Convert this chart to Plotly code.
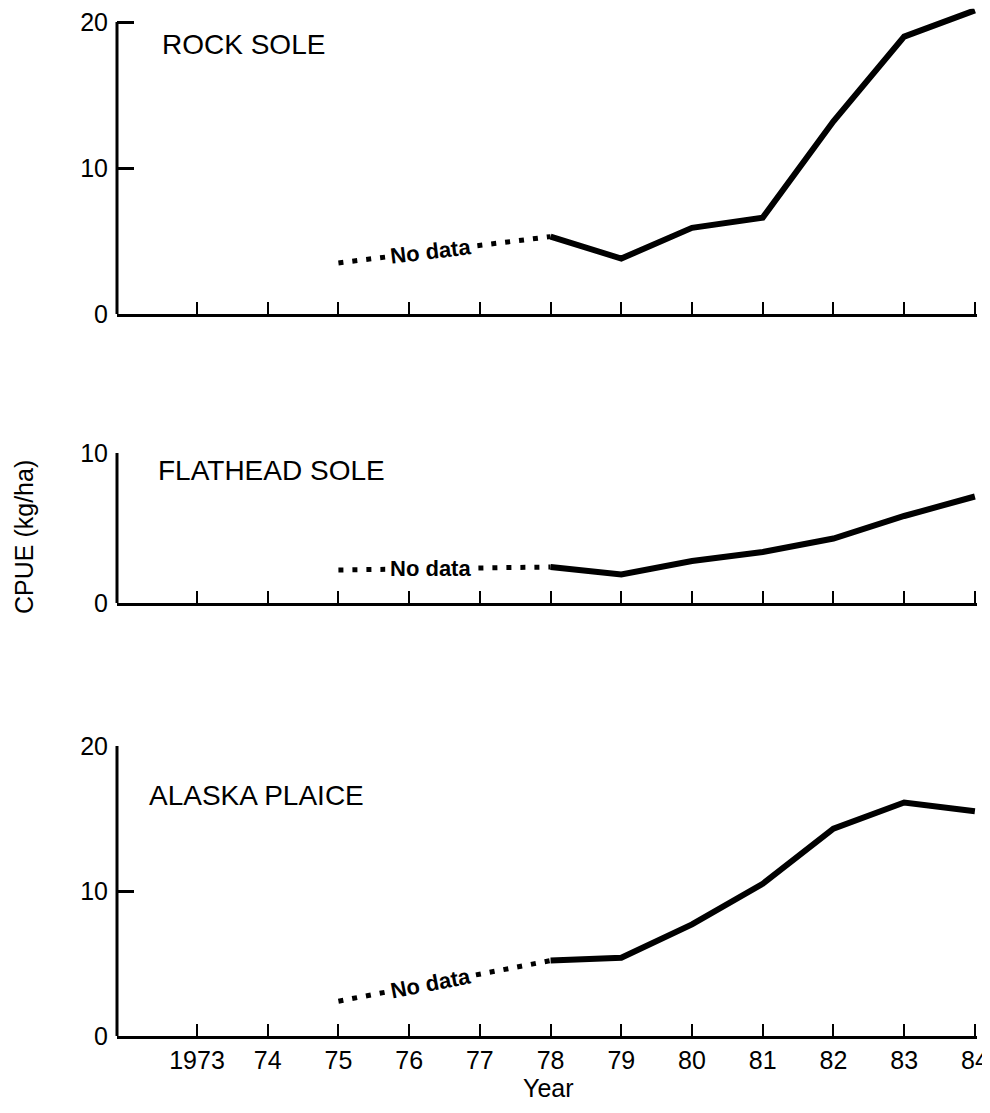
import plotly.graph_objects as go

# ---- data ----
years = [1978, 1979, 1980, 1981, 1982, 1983, 1984]
rock_sole = [5.3, 3.8, 5.9, 6.6, 13.2, 19.0, 20.8]
flathead_sole = [2.4, 1.9, 2.8, 3.4, 4.3, 5.8, 7.1]
alaska_plaice = [5.2, 5.4, 7.7, 10.5, 14.3, 16.1, 15.5]

nodata_years = [1975, 1978]
rock_sole_nodata = [3.5, 5.3]
flathead_nodata = [2.2, 2.4]
plaice_nodata = [2.4, 5.2]

panel_titles = ["ROCK SOLE", "FLATHEAD SOLE", "ALASKA PLAICE"]
tick_years = list(range(1973, 1985))
tick_labels = ["1973"] + [str(y)[2:] for y in tick_years[1:]]

# page body has an 8px margin; build the figure in page coordinates minus 8
OFF = 8
W, H = 990 - OFF, 1097
ML = 117 - OFF
MR = W - (977 - OFF)
PW = W - ML - MR
FONT = "Liberation Sans, Arial, Helvetica, sans-serif"

def py(p):  # page pixel y -> paper fraction
    return min(1.0, max(0.0, (H - (p - OFF)) / H))

def px(p):  # page pixel x -> paper fraction
    return (p - OFF - ML) / PW

panels = [
    dict(vals=rock_sole, nd=rock_sole_nodata, yr=[0, 20.9], ytop=20, ticks=[0, 10, 20],
         dom=[py(314), py(314 - 20.9 * 14.6)], title_xy=(160, 45), angle=-7),
    dict(vals=flathead_sole, nd=flathead_nodata, yr=[0, 10], ytop=10, ticks=[0, 10],
         dom=[py(603), py(453)], title_xy=(156, 471), angle=0),
    dict(vals=alaska_plaice, nd=plaice_nodata, yr=[0, 20], ytop=20, ticks=[0, 10, 20],
         dom=[py(1036), py(1036 - 20 * 14.5)], title_xy=(147, 795), angle=-11),
]

fig = go.Figure()
annotations = []
shapes = []
xr = [1971.869, 1984.03]

for i, p in enumerate(panels):
    n = i + 1
    xa = "x" if n == 1 else f"x{n}"
    ya = "y" if n == 1 else f"y{n}"
    # dotted 'no data' segment
    fig.add_trace(go.Scatter(x=nodata_years, y=p["nd"], mode="lines",
                             line=dict(color="black", width=5, dash="5px,9px"),
                             xaxis=xa, yaxis=ya, showlegend=False, hoverinfo="skip"))
    # solid data line
    fig.add_trace(go.Scatter(x=years, y=p["vals"], mode="lines",
                             line=dict(color="black", width=6),
                             xaxis=xa, yaxis=ya, showlegend=False))
    # 'No data' label at a point along the dotted segment
    xm = 1976.3
    frac = (xm - nodata_years[0]) / (nodata_years[1] - nodata_years[0])
    ym = p["nd"][0] + (p["nd"][1] - p["nd"][0]) * frac
    annotations.append(dict(x=xm, y=ym, xref=xa, yref=ya, text="<b>No data</b>",
                            showarrow=False, textangle=p["angle"], bgcolor="white",
                            xanchor="center", yanchor="middle",
                            borderpad=4, font=dict(family=FONT, size=22, color="black")))
    # panel title
    tx, ty = p["title_xy"]
    annotations.append(dict(x=px(tx), y=py(ty), xref="paper", yref="paper",
                            text=panel_titles[i], showarrow=False, xanchor="left",
                            yanchor="middle", font=dict(family=FONT, size=28, color="black")))
    # y axis line up to top tick
    shapes.append(dict(type="line", xref=f"{xa} domain", yref=ya, x0=0, x1=0,
                       y0=0, y1=p["ytop"], line=dict(color="black", width=3)))

    xaxis = dict(range=xr, domain=[0, 1], showgrid=False, zeroline=False,
                 showline=True, linecolor="black", linewidth=3,
                 tickvals=tick_years, ticktext=tick_labels, ticks="inside",
                 ticklen=12, tickwidth=2, tickcolor="black",
                 showticklabels=(n == 3), automargin=False,
                 ticklabeloverflow="allow",
                 tickfont=dict(family=FONT, size=25, color="black"))
    if n != 1:
        xaxis["anchor"] = ya
    yaxis = dict(range=p["yr"], domain=p["dom"], showgrid=False, zeroline=False,
                 showline=False, tickvals=p["ticks"], ticks="inside", ticklen=17,
                 tickwidth=3, tickcolor="black", anchor=xa, automargin=False,
                 ticklabelstandoff=8, ticklabeloverflow="allow",
                 tickfont=dict(family=FONT, size=25, color="black"))
    fig.update_layout(**{("xaxis" if n == 1 else f"xaxis{n}"): xaxis,
                         ("yaxis" if n == 1 else f"yaxis{n}"): yaxis})

annotations.append(dict(x=px(24), y=py(537), xref="paper", yref="paper",
                        text="CPUE (kg/ha)", showarrow=False, textangle=-90,
                        xanchor="center", yanchor="middle",
                        font=dict(family=FONT, size=25, color="black")))
annotations.append(dict(x=px(548), y=py(1088), xref="paper", yref="paper",
                        text="Year", showarrow=False,
                        xanchor="center", yanchor="middle",
                        font=dict(family=FONT, size=25, color="black")))

fig.update_layout(width=W, height=H, margin=dict(l=ML, r=MR, t=0, b=0),
                  plot_bgcolor="white", paper_bgcolor="white",
                  annotations=annotations, shapes=shapes, showlegend=False)

fig.write_html("out.html")
